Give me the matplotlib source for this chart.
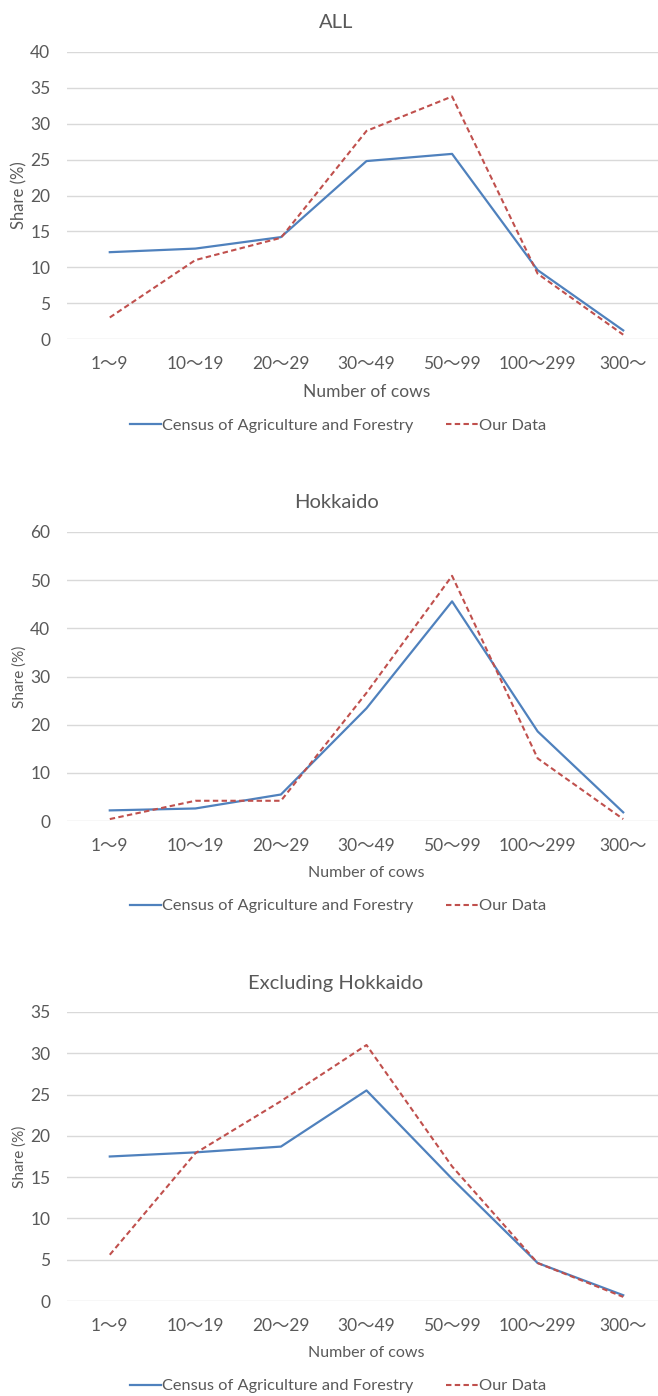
import numpy as np
import matplotlib
matplotlib.use("Agg")
import matplotlib.pyplot as plt

plt.rcParams['font.family'] = ['Lato', 'Noto Sans CJK JP', 'DejaVu Sans']

# herd size classes (number of cows)
categories = ["1～9", "10～19", "20～29", "30～49", "50～99", "100～299", "300～"]

# share of farms (%) by herd size
all_census = [12.1, 12.6, 14.2, 24.8, 25.8, 9.6, 1.2]
all_ours = [3.0, 11.0, 14.1, 29.0, 33.8, 9.1, 0.6]

hok_census = [2.2, 2.6, 5.5, 23.4, 45.6, 18.6, 1.8]
hok_ours = [0.4, 4.2, 4.2, 26.6, 50.9, 13.0, 0.4]

exc_census = [17.5, 18.0, 18.7, 25.5, 14.8, 4.6, 0.7]
exc_ours = [5.6, 17.9, 24.2, 31.0, 16.3, 4.6, 0.5]

titles = ["ALL", "Hokkaido", "Excluding Hokkaido"]
ymaxes = [40, 60, 35]
ysteps = [5, 10, 5]
census_series = [all_census, hok_census, exc_census]
our_series = [all_ours, hok_ours, exc_ours]

BLUE = "#4F81BD"
RED = "#C0504D"
GREY = "#595959"
GRID = "#D9D9D9"

W, H = 658, 1396
fig = plt.figure(figsize=(W / 100, H / 100), dpi=100)

# pixel layout of each panel: (plot top, plot bottom, title y, legend y)
panels = [(52, 339, 22, 426), (532, 821, 503, 906), (1012, 1301, 983, 1386)]
label_fs = [12.5, 11.5, 11.5]
tick_fs = [12.5, 12.5, 12.5]

x = np.arange(len(categories))
for i, (top, bot, ty, ly) in enumerate(panels):
    ax = fig.add_axes([67 / W, 1 - bot / H, (666 - 67) / W, (bot - top) / H])
    l1, = ax.plot(x, census_series[i], color=BLUE, lw=1.6,
                  label="Census of Agriculture and Forestry", zorder=3)
    l2, = ax.plot(x, our_series[i], color=RED, lw=1.5, dashes=(2.6, 1.6),
                  label="Our Data", zorder=3)
    ax.set_xlim(-0.5, 6.5)
    ax.set_ylim(0, ymaxes[i])
    ax.set_yticks(np.arange(0, ymaxes[i] + 1, ysteps[i]))
    ax.set_xticks(x)
    ax.set_xticklabels(categories)
    ax.grid(axis='y', color=GRID, lw=1.0)
    ax.set_axisbelow(True)
    for s in ax.spines.values():
        s.set_visible(False)
    ax.tick_params(length=0, colors=GREY, labelsize=tick_fs[i])
    ax.tick_params(axis='y', pad=12)
    ax.tick_params(axis='x', pad=12)
    ax.set_xlabel("Number of cows", color=GREY, fontsize=label_fs[i], labelpad=9)
    ax.set_ylabel("Share (%)", color=GREY, fontsize=label_fs[i] - 0.5)
    ax.yaxis.set_label_coords((27 - 67) / 599, 0.5)
    fig.text(336 / W, 1 - ty / H, titles[i], ha='center', va='center',
             color=GREY, fontsize=14.5)
    fig.legend(handles=[l1, l2], loc='center', ncol=2, frameon=False,
               bbox_to_anchor=(338 / W, 1 - ly / H), fontsize=11.8,
               handlelength=1.9, handletextpad=0.1, columnspacing=2.0,
               labelcolor=GREY)

fig.savefig("out.png", dpi=100, facecolor="white")
